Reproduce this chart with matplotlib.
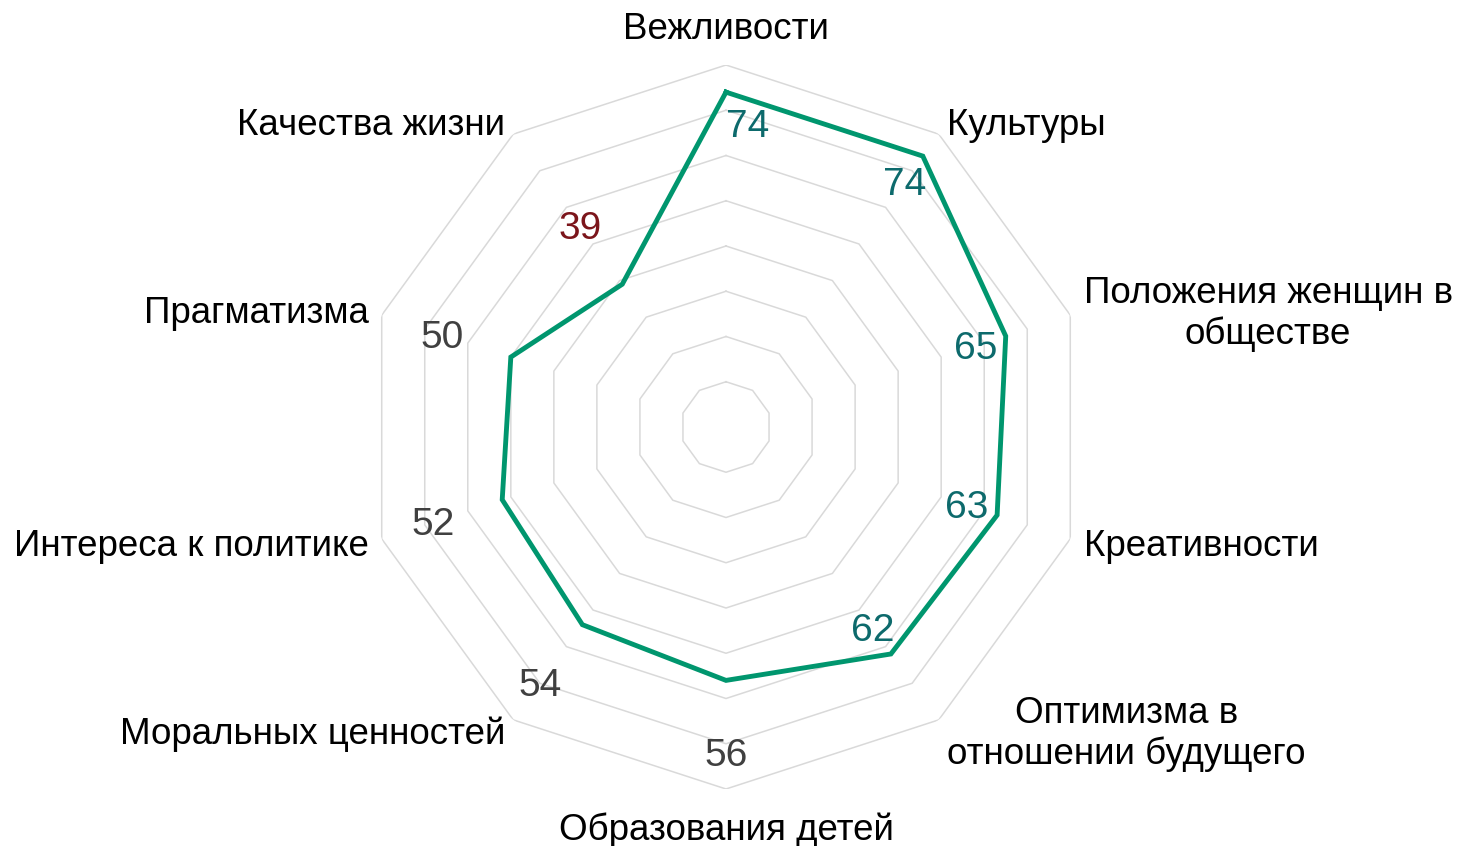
import numpy as np
import matplotlib
matplotlib.use("Agg")
import matplotlib.pyplot as plt
from matplotlib.transforms import offset_copy

plt.rcParams['font.family'] = ['Liberation Sans', 'DejaVu Sans']

# data, clockwise from the top
categories = [
    "Вежливости",
    "Культуры",
    "Положения женщин в\nобществе",
    "Креативности",
    "Оптимизма в\nотношении будущего",
    "Образования детей",
    "Моральных ценностей",
    "Интереса к политике",
    "Прагматизма",
    "Качества жизни",
]
values = [74, 74, 65, 63, 62, 56, 54, 52, 50, 39]
grid_levels = [10, 20, 30, 40, 50, 60, 70, 80]
r_max = 80

line_color = "#00966e"
grid_color = "#d9d9d9"

def value_color(v):
    if v >= 60:
        return "#0d6a6c"
    if v < 40:
        return "#7b151b"
    return "#404040"

n = len(categories)
angles = np.arange(n) * 2 * np.pi / n
closed = np.append(angles, angles[0])

fig = plt.figure(figsize=(14.63, 8.46), dpi=100)
W, H = 1463, 846
cx, cy, rad = 726, 427, 362
ax = fig.add_axes([(cx - rad) / W, (H - cy - rad) / H, 2 * rad / W, 2 * rad / H],
                  polar=True)
ax.set_theta_offset(np.pi / 2)
ax.set_theta_direction(-1)
ax.set_ylim(0, r_max)
ax.grid(False)
ax.spines['polar'].set_visible(False)
ax.set_xticks([])
ax.set_yticks([])
ax.patch.set_alpha(0)

# polygon grid
for lvl in grid_levels:
    ax.plot(closed, [lvl] * (n + 1), color=grid_color, lw=1.1, zorder=1)

# data line
ax.plot(closed, values + values[:1], color=line_color, lw=3.5, zorder=3,
        solid_joinstyle='miter')

# text sits a few pixels lower than the bbox centre
shifted = offset_copy(ax.transData, fig=fig, y=-3, units='dots')

# value labels
for i, (a, v) in enumerate(zip(angles, values)):
    r = v - 7 if v >= 60 else v + 16
    ax.text(a, r, str(v), fontsize=28, color=value_color(v),
            ha='left' if i == 0 else 'center', va='center', zorder=4,
            transform=shifted)

# category labels
for a, lab in zip(angles, categories):
    s = np.sin(a)
    if abs(s) < 1e-6:
        ha, r = 'center', 88.4
    elif s > 0:
        ha, r = 'left', 83.1
    else:
        ha, r = 'right', 83.1
    ax.text(a, r, lab, fontsize=26.5, color="black", ha=ha, va='center',
            multialignment='center', transform=shifted)

fig.savefig("out.png", dpi=100)
